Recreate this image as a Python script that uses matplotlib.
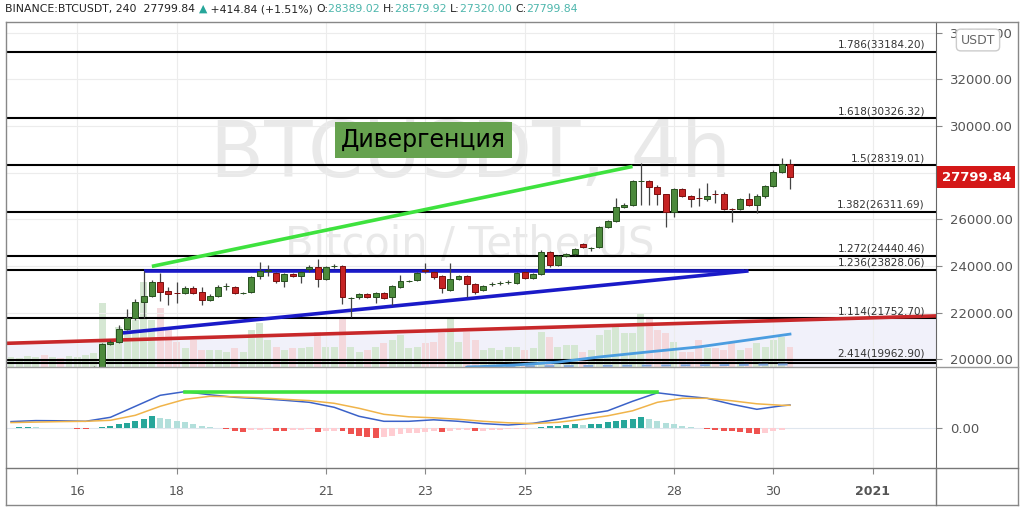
import matplotlib
matplotlib.use("Agg")
import matplotlib.pyplot as plt
import numpy as np
import pandas as pd
from matplotlib.lines import Line2D

plt.rcParams["font.family"] = ["DejaVu Sans"]

# ---- data (BINANCE:BTCUSDT, 4h candles) ----
start_time = "2020-12-14 16:00"
opens = [19180, 19230, 19260, 19330, 19420, 19380, 19450, 19400, 19430, 19450, 19500,
         19690, 20656, 20741, 21299, 21770, 22456, 22713, 23313, 22927, 22841,
         22841, 23056, 22884, 22542, 22713, 23141, 23099, 22841, 22884, 23570,
         23800, 23699, 23356, 23656, 23570, 23870, 23956, 23442, 23999, 23999,
         22627, 22670, 22799, 22670, 22841, 22670, 23099, 23356, 23399, 23830,
         23742, 23570, 22970, 23442, 23570, 23227, 22970, 23227, 23270, 23313,
         23270, 23742, 23485, 23656, 24599, 24042, 24428, 24513, 24942, 24770,
         24813, 25671, 25928, 26528, 26614, 27642, 27642, 27385, 27085, 26314,
         27299, 26999, 26914, 26871, 27085, 27085, 26442, 26442, 26871, 26614,
         26999, 27428, 28028, 28389.02]
highs = [19300, 19330, 19380, 19480, 19500, 19520, 19570, 19480, 19520, 19560, 19720,
         20700, 20830, 21470, 22150, 22580, 23780, 23380, 23700, 23110, 23320,
         23150, 23140, 23110, 22780, 23180, 23280, 23150, 22900, 23570, 24180,
         24050, 23740, 23700, 23700, 23800, 24040, 24290, 24000, 24080, 24040,
         22680, 22840, 22840, 22880, 22880, 23180, 23610, 23420, 23740, 24130,
         23800, 23620, 24130, 23620, 23620, 23260, 23180, 23330, 23370, 23420,
         23760, 23800, 23700, 24680, 24640, 24470, 24560, 24780, 24990, 24830,
         25720, 25980, 26900, 26700, 27700, 28410, 27700, 27450, 27100, 27350,
         27340, 27030, 27330, 27540, 27260, 27150, 26500, 26920, 27115, 27100,
         27470, 28100, 28615, 28579.92]
lows = [19130, 19150, 19200, 19300, 19330, 19340, 19360, 19300, 19380, 19420, 19480,
        19650, 20600, 20700, 21250, 21700, 21770, 22650, 22500, 22330, 22400,
        22780, 22780, 22330, 22480, 22680, 22980, 22800, 22800, 22850, 23430,
        23550, 23250, 23110, 23530, 23260, 23750, 23110, 23400, 23920, 22370,
        21830, 22600, 22620, 22400, 22580, 22330, 23060, 23300, 23350, 23700,
        23450, 22830, 22930, 23400, 22680, 22800, 22930, 23150, 23200, 23240,
        23230, 23440, 23450, 23600, 23950, 24000, 24380, 24470, 24760, 24640,
        24790, 25620, 25900, 26480, 26580, 26614, 26620, 26620, 25680, 26110,
        26950, 26540, 26570, 26800, 26700, 26400, 25900, 26400, 26560, 26270,
        26900, 27400, 27990, 27320.00]
closes = [19230, 19260, 19330, 19420, 19380, 19450, 19400, 19430, 19450, 19500, 19690,
          20656, 20741, 21299, 21770, 22456, 22713, 23313, 22884, 22799, 22830,
          23056, 22841, 22542, 22713, 23099, 23160, 22841, 22860, 23527, 23784,
          23830, 23356, 23656, 23570, 23742, 23956, 23442, 23956, 24010, 22670,
          22640, 22799, 22670, 22841, 22627, 23141, 23356, 23370, 23699, 23800,
          23527, 23056, 23442, 23570, 23227, 22884, 23141, 23240, 23285, 23330,
          23699, 23485, 23656, 24599, 24042, 24428, 24513, 24728, 24813, 24790,
          25671, 25928, 26528, 26614, 27642, 27660, 27385, 27085, 26314, 27299,
          26999, 26871, 26900, 26999, 27070, 26442, 26430, 26871, 26614, 26999,
          27428, 28028, 28371, 27799.84]
volumes = [3000, 2700, 3300, 3000, 3600, 3000, 2700, 3300, 3000, 3600, 4200,
           19200, 8100, 12000, 15000, 14100, 25500, 14100, 17700, 11100, 7500,
           5700, 8100, 5100, 5100, 5100, 4500, 5700, 4500, 11100, 13200,
           8100, 6000, 5100, 5700, 5700, 6000, 10500, 6000, 6000, 14700,
           6000, 4500, 5100, 6000, 7200, 8100, 9600, 5700, 6000, 7200,
           7500, 10200, 14700, 7500, 10500, 8100, 5100, 5700, 5100, 6000,
           6000, 5100, 5700, 10500, 9000, 6000, 6600, 6600, 4500, 5100,
           9600, 11100, 12000, 10200, 10200, 16200, 15000, 11100, 10200, 7500,
           4500, 4500, 8100, 5700, 5700, 5100, 7200, 5100, 5700, 7200,
           6000, 8100, 9000, 6000]

# MACD (12, 26, 9) histogram per candle
macd_hist = [14, 20, 30, 20, 10, 6, 14, 6, -10, -20, 10,
             24, 46, 80, 114, 146, 186, 254, 214, 180, 146,
             120, 86, 54, 26, 14, -6, -46, -66, -34, -26,
             -20, -46, -46, -34, -26, -20, -74, -54, -46, -60,
             -114, -154, -180, -186, -166, -146, -120, -100, -86, -66,
             -54, -66, -46, -40, -34, -60, -46, -34, -26, -20,
             -14, -6, 14, 34, 46, 54, 66, 86, 74, 80,
             94, 120, 146, 166, 194, 226, 194, 154, 114, 80,
             54, 34, 6, -20, -34, -46, -60, -80, -100, -120,
             -94, -60, -26, 6]
macd_idx = [0, 3, 6, 9, 12, 15, 18, 21, 24, 27, 30, 33, 36, 39, 42, 45, 48,
            51, 54, 57, 60, 63, 66, 69, 72, 75, 78, 81, 84, 87, 90, 93, 94]
macd_line = [134, 154, 150, 140, 220, 440, 660, 734, 670, 620, 594, 560, 520,
             420, 240, 140, 140, 170, 140, 94, 66, 100, 180, 270, 350, 540,
             710, 650, 600, 480, 380, 450, 466]
signal_line = [114, 124, 134, 140, 160, 260, 440, 580, 640, 630, 610, 580, 554,
               500, 400, 280, 230, 210, 180, 140, 110, 94, 120, 180, 250, 350,
               520, 600, 600, 550, 490, 460, 460]

fib_prices = [33184.20, 30326.32, 28319.01, 26311.69, 24440.46, 23828.06, 21752.70, 19962.90, 19862.29]
fib_labels = ["1.786(33184.20)", "1.618(30326.32)", "1.5(28319.01)", "1.382(26311.69)",
              "1.272(24440.46)", "1.236(23828.06)", "1.114(21752.70)", "2.414(19962.90)", ""]

# trend lines: (time, price) anchors
green_line = [("2020-12-17 12:00", 23983), ("2020-12-27 04:00", 28266)]
blue_flat = [("2020-12-17 08:00", 23790), ("2020-12-29 10:00", 23790)]
blue_rising = [("2020-12-16 20:00", 21114), ("2020-12-29 12:00", 23790)]
red_line = [("2020-12-14 08:00", 20670), ("2021-01-02 12:00", 21875)]
ma_idx = [55, 61, 66, 71, 77, 83, 89, 94]
ma_vals = [19660, 19760, 19880, 20100, 20320, 20530, 20830, 21080]
ma2_idx = [55, 65, 75, 85, 94]
ma2_vals = [19690, 19705, 19725, 19750, 19780]
macd_green = [("2020-12-18 04:00", 732), ("2020-12-27 16:00", 732)]

price_ticks = [20000, 22000, 24000, 26000, 28000, 30000, 32000, 34000]
day_ticks = ["2020-12-16", "2020-12-18", "2020-12-21", "2020-12-23",
             "2020-12-25", "2020-12-28", "2020-12-30", "2021-01-01"]
day_labels = ["16", "18", "21", "23", "25", "28", "30", "2021"]

# ---- helpers ----
W, H = 1024, 508
origin = pd.Timestamp("2020-12-15")


def day(t):
    return (pd.Timestamp(t) - origin) / pd.Timedelta(days=1)


def box(l, t, r, b):
    return [l / W, 1 - b / H, (r - l) / W, (b - t) / H]


times = pd.date_range(start_time, periods=len(closes), freq="4h")
x = np.array([(t - origin) / pd.Timedelta(days=1) for t in times])
opens = np.array(opens, float)
closes = np.array(closes, float)
up = closes >= opens

GREEN = "#4c8a3c"
GREEN_E = "#27501e"
RED = "#c62424"
RED_E = "#7a0e0e"
GRID = "#ececec"
AXC = "#555555"
XLIM = (-0.434, 18.27)
YLIM = (19670, 34457)

fig = plt.figure(figsize=(W / 100, H / 100), dpi=100)
fig.patch.set_facecolor("white")

# background pane: lavender band under the red line, then volume bars
vax = fig.add_axes(box(6, 22, 936, 367))
vax.set_xlim(*XLIM)
vax.set_ylim(*YLIM)
rx = [day(t) for t, _ in red_line]
ry = [p for _, p in red_line]
vax.fill_between(rx, ry, YLIM[0], color="#f1f1fa", lw=0, zorder=0)
vax.axis("off")

volax = fig.add_axes(box(6, 22, 936, 367))
volax.patch.set_alpha(0)
volax.bar(x, volumes, width=0.14, color=np.where(up, "#d5e7d3", "#f4d8dc"), zorder=1)
volax.set_xlim(*XLIM)
volax.set_ylim(0, 103500)
volax.axis("off")

ax = fig.add_axes(box(6, 22, 936, 367))
ax.patch.set_alpha(0)
ax.set_xlim(*XLIM)
ax.set_ylim(*YLIM)

# watermark
ax.text(0.499, 0.614, "BTCUSDT, 4h", transform=ax.transAxes, ha="center", va="center",
        fontsize=57, color="#e9e9e9", zorder=0)
ax.text(0.499, 0.354, "Bitcoin / TetherUS", transform=ax.transAxes, ha="center", va="center",
        fontsize=30, color="#e9e9e9", zorder=0)

# grid
for p in price_ticks:
    ax.axhline(p, color=GRID, lw=0.8, zorder=0.5)
for d in day_ticks:
    ax.axvline(day(d), color=GRID, lw=0.8, zorder=0.5)

# fib levels
for p, lab in zip(fib_prices, fib_labels):
    ax.axhline(p, color="black", lw=1.5, zorder=2)
    if lab:
        ax.annotate(lab, xy=(1, p), xycoords=("axes fraction", "data"), xytext=(-8, 1.5),
                    textcoords="offset points", ha="right", va="bottom", fontsize=7.5,
                    color="#333333", zorder=6)

# moving averages and trend lines
ax.plot(x[ma2_idx], ma2_vals, color="#7fa6de", lw=1.4, ls=(0, (5, 5)), zorder=3)
ax.plot(x[ma_idx], ma_vals, color="#4b9de0", lw=2, zorder=3)
for pts, col in [(red_line, "#c8282a"), (green_line, "#3ee23e"),
                 (blue_flat, "#1a1ac8"), (blue_rising, "#1a1ac8")]:
    ax.plot([day(t) for t, _ in pts], [p for _, p in pts], color=col, lw=2.6,
            solid_capstyle="butt", zorder=4)

# candles
ax.vlines(x, lows, highs, color="#444444", lw=0.9, zorder=4.5)
ax.bar(x, np.maximum(np.abs(closes - opens), 12), bottom=np.minimum(opens, closes),
       width=0.12, color=np.where(up, GREEN, RED), edgecolor=np.where(up, GREEN_E, RED_E),
       linewidth=0.7, zorder=5)

# price axis on the right (28000 hidden behind the last-price tag)
ax.yaxis.tick_right()
ax.set_yticks(price_ticks)
ax.set_yticklabels(["" if p == 28000 else f"{p:.2f}" for p in price_ticks])
ax.tick_params(axis="y", length=4, color="#888888", labelsize=9.5, labelcolor=AXC, pad=6)
ax.tick_params(axis="x", bottom=False, labelbottom=False)
for s in ["top", "left", "bottom"]:
    ax.spines[s].set_visible(False)
ax.spines["right"].set_color("#666666")

# "Дивергенция" label
ax.text(0.449, 0.657, "Дивергенция", transform=ax.transAxes, ha="center", va="center",
        fontsize=17, color="black", zorder=7,
        bbox=dict(boxstyle="square,pad=0.25", fc="#66a24f", ec="none"))

# last price tag
ax.annotate("27799.84", xy=(1, closes[-1]), xycoords=("axes fraction", "data"),
            xytext=(4, 0), textcoords="offset points", ha="left", va="center",
            fontsize=9.5, fontweight="bold", color="white", annotation_clip=False, zorder=8,
            bbox=dict(boxstyle="square,pad=0.35", fc="#d41818", ec="none"))

# ---- MACD pane ----
axm = fig.add_axes(box(6, 367, 936, 468))
axm.set_xlim(*XLIM)
axm.set_ylim(-794, 1226)
for d in day_ticks:
    axm.axvline(day(d), color=GRID, lw=0.8, zorder=0.5)
axm.axhline(0, color="#dfe6ee", lw=0.8, zorder=0.5)
hist = np.array(macd_hist, float)
prev = np.concatenate([[hist[0]], hist[:-1]])
hcol = np.where(hist >= 0, np.where(hist >= prev, "#26a69a", "#b2dfdb"),
                np.where(hist <= prev, "#ef5350", "#ffcdd2"))
axm.bar(x, hist, width=0.12, color=hcol, zorder=2)
axm.plot(x[macd_idx], macd_line, color="#3b62c8", lw=1.1, zorder=3)
axm.plot(x[macd_idx], signal_line, color="#f0b44a", lw=1.1, zorder=3)
axm.plot([day(t) for t, _ in macd_green], [v for _, v in macd_green], color="#3ee23e",
         lw=2.6, zorder=4)
axm.yaxis.tick_right()
axm.set_yticks([0])
axm.set_yticklabels(["0.00"])
axm.tick_params(axis="y", length=4, color="#888888", labelsize=9.5, labelcolor=AXC, pad=6)
axm.set_xticks([day(d) for d in day_ticks])
axm.set_xticklabels(day_labels)
axm.tick_params(axis="x", length=4, color="#888888", labelsize=9, labelcolor=AXC, pad=8)
axm.get_xticklabels()[-1].set_fontweight("bold")
for s in ["top", "left", "bottom"]:
    axm.spines[s].set_visible(False)
axm.spines["right"].set_color("#666666")


# frame lines (pixel coordinates)
def fline(x0, y0, x1, y1, c="#888888", lw=1):
    fig.add_artist(Line2D([x0 / W, x1 / W], [1 - y0 / H, 1 - y1 / H], color=c, lw=lw))


fline(6, 22, 1018, 22)
fline(6, 22, 6, 505)
fline(1018, 22, 1018, 505)
fline(6, 505, 1018, 505)
fline(6, 367, 1018, 367, c="#999999")
fline(6, 468, 1018, 468, c="#777777")
fline(936, 468, 936, 505, c="#777777")

# USDT button
fig.text(978 / W, 1 - 40 / H, "USDT", ha="center", va="center", fontsize=9, color="#666666",
         bbox=dict(boxstyle="round,pad=0.35", fc="white", ec="#cccccc"))

# header
renderer = fig.canvas.get_renderer()
pieces = [("BINANCE:BTCUSDT, 240  27799.84 ", "#222222"), ("▲", "#26a69a"),
          (" +414.84 (+1.51%) ", "#222222"), ("O:", "#222222"), ("28389.02 ", "#4db6ac"),
          ("H:", "#222222"), ("28579.92 ", "#4db6ac"), ("L:", "#222222"),
          ("27320.00 ", "#4db6ac"), ("C:", "#222222"), ("27799.84", "#4db6ac")]
xp = 5
for s, c in pieces:
    t = fig.text(xp / W, 1 - 9 / H, s, ha="left", va="center", fontsize=7.8, color=c)
    xp += t.get_window_extent(renderer).width

fig.savefig("out.png", dpi=100)
